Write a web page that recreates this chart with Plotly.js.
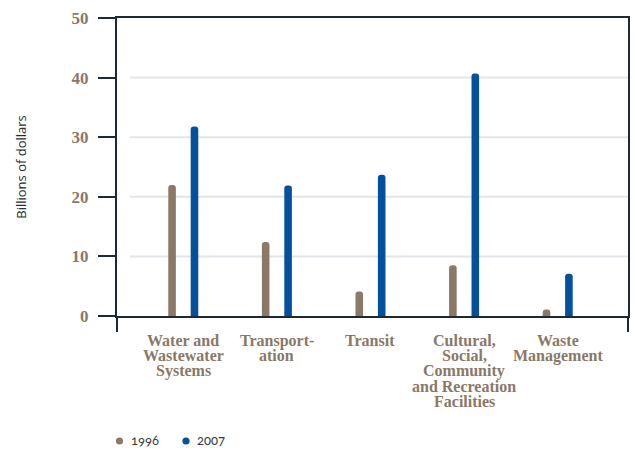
<!DOCTYPE html>
<html>
<head>
<meta charset="utf-8">
<script src="https://cdn.plot.ly/plotly-3.0.1.min.js"></script>
<style>
  html, body { margin: 0; padding: 0; background: #ffffff; }
  #chart { width: 635px; height: 451px; }
</style>
</head>
<body>
<div id="chart"></div>
<script>
// Infrastructure spending by category, billions of dollars
const categories = [
  'Water and\nWastewater\nSystems',
  'Transport-\nation',
  'Transit',
  'Cultural,\nSocial,\nCommunity\nand Recreation\nFacilities',
  'Waste\nManagement'
];
const seriesNames = ['1996', '2007'];
const values1996 = [22.0, 12.4, 4.1, 8.5, 1.1];
const values2007 = [31.8, 21.9, 23.7, 40.7, 7.1];
const yTicks = [0, 10, 20, 30, 40, 50];
const yTitle = 'Billions of dollars';

const BROWN = '#8a7967';
const BLUE = '#03509e';
const DARK = '#1b2a35';
const GRID = '#e2e6ea';
const LABEL = '#8a7866';

// plot area in pixels
const W = 635, H = 451;
const M = { l: 117, r: 7, t: 18, b: 135 };
const PW = W - M.l - M.r, PH = H - M.t - M.b;

const barWidth = 0.081;
const halfGap = 0.1197;

const traces = [
  {
    type: 'bar', name: seriesNames[0], x: categories, y: values1996,
    width: barWidth, offset: -halfGap - barWidth / 2,
    marker: { color: BROWN, cornerradius: '50%' },
    showlegend: false, hoverinfo: 'none'
  },
  {
    type: 'bar', name: seriesNames[1], x: categories, y: values2007,
    width: barWidth, offset: halfGap - barWidth / 2,
    marker: { color: BLUE, cornerradius: '50%' },
    showlegend: false, hoverinfo: 'none'
  }
];

const shapes = [];
// light grid lines, inset from the left axis
yTicks.filter(v => v > yTicks[0] && v < yTicks[yTicks.length - 1]).forEach(v => {
  shapes.push({
    type: 'line', xref: 'paper', yref: 'y', x0: 13 / PW, x1: 1, y0: v, y1: v,
    line: { color: GRID, width: 2 }, layer: 'below'
  });
});
// frame posts dropping below the baseline
[0, 1].forEach(px => {
  shapes.push({
    type: 'line', xref: 'paper', yref: 'paper', x0: px, x1: px, y0: 0, y1: -16 / PH,
    line: { color: DARK, width: 2 }
  });
});

const annotations = [];
// multi-line category labels with tight leading
const labelFont = { family: 'Liberation Serif', size: 16, color: LABEL, weight: 'bold' };
categories.forEach(cat => {
  cat.split('\n').forEach((line, k) => {
    annotations.push({
      xref: 'x', yref: 'paper', x: cat, y: 0, yanchor: 'top', xanchor: 'center',
      yshift: -14 - k * 15.2, text: line, showarrow: false, font: labelFont
    });
  });
});

// legend: dots and year labels
const legendColors = [BROWN, BLUE];
const legendX = [119.5, 186];
const legendY = 441;
seriesNames.forEach((name, i) => {
  const cx = (legendX[i] - M.l) / PW;
  const cy = (M.t + PH - legendY) / PH;
  shapes.push({
    type: 'circle', xref: 'paper', yref: 'paper',
    xsizemode: 'pixel', ysizemode: 'pixel', xanchor: cx, yanchor: cy,
    x0: -3.6, x1: 3.6, y0: -3.6, y1: 3.6,
    fillcolor: legendColors[i], line: { width: 0 }
  });
  annotations.push({
    xref: 'paper', yref: 'paper', x: cx, y: cy, xanchor: 'left', yanchor: 'middle',
    xshift: 9, yshift: 1, showarrow: false,
    text: '<span style="font-variant-numeric:oldstyle-nums;font-feature-settings:\'onum\'">' + name + '</span>',
    font: { family: 'Lato', size: 13, color: '#3a3a3a' }
  });
});

const layout = {
  width: W, height: H,
  margin: M,
  paper_bgcolor: '#ffffff', plot_bgcolor: '#ffffff',
  barmode: 'group',
  showlegend: false,
  xaxis: {
    type: 'category',
    range: [-0.708, 4.751],
    showticklabels: false, ticks: '', showgrid: false, zeroline: false,
    showline: true, linecolor: DARK, linewidth: 2, mirror: true,
    fixedrange: true
  },
  yaxis: {
    range: [0, 50],
    tickvals: yTicks,
    ticks: 'outside', ticklen: 17, tickwidth: 2, tickcolor: DARK,
    ticklabelstandoff: 6,
    tickfont: { family: 'Liberation Serif', size: 17, color: LABEL, weight: 'bold' },
    showgrid: false, zeroline: false,
    showline: true, linecolor: DARK, linewidth: 2, mirror: true,
    title: { text: yTitle, standoff: 42, font: { family: 'Open Sans', size: 13, color: '#2b2b2b' } },
    automargin: false,
    fixedrange: true
  },
  shapes: shapes,
  annotations: annotations
};

Plotly.newPlot('chart', traces, layout, { staticPlot: true, displayModeBar: false });
</script>
</body>
</html>
